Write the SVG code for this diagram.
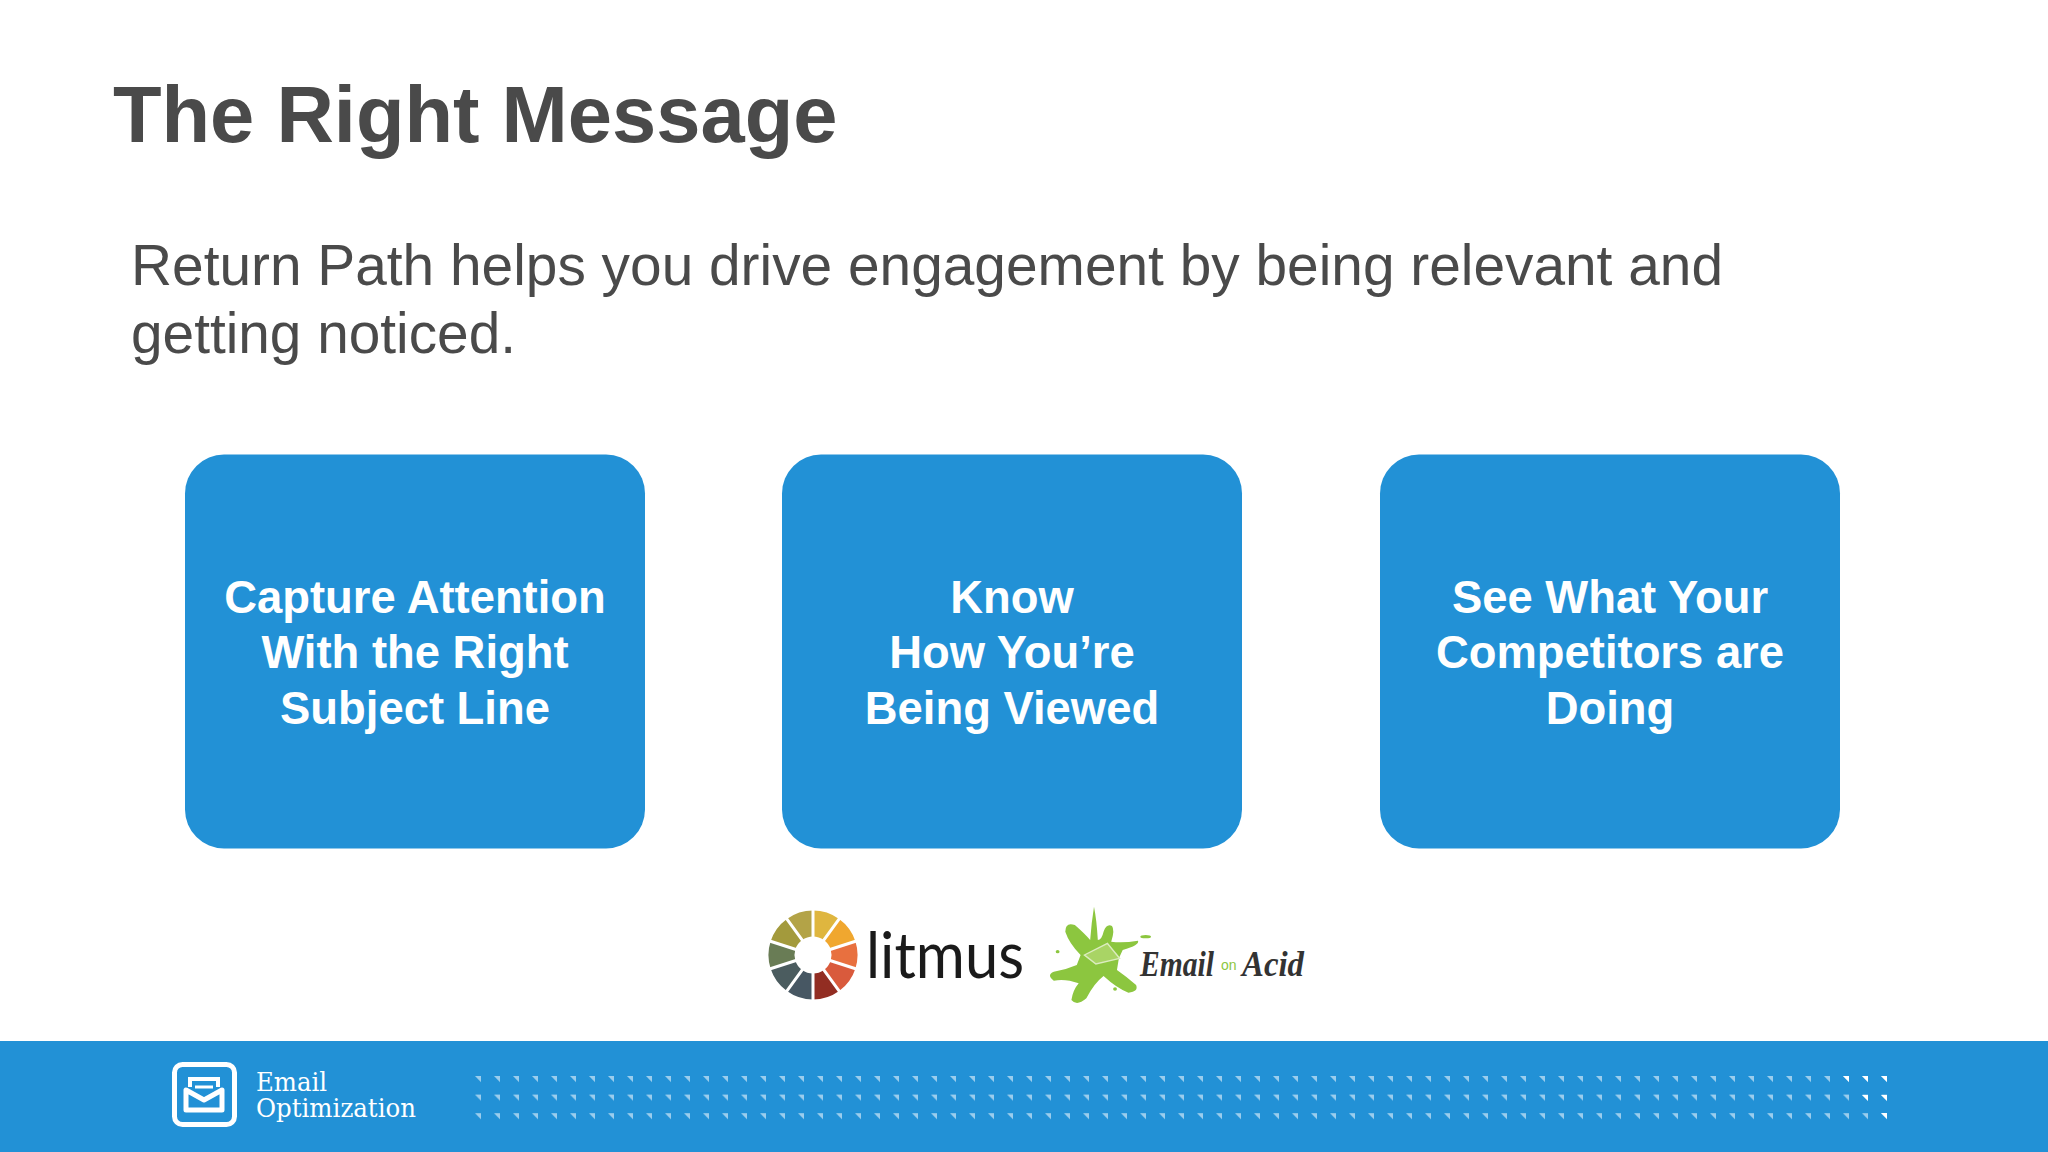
<svg xmlns="http://www.w3.org/2000/svg" width="2048" height="1152" viewBox="0 0 2048 1152">
<defs>
<style>
.box{fill:#2291d6}
.lbl{font-family:"Liberation Sans",Arial,sans-serif;font-weight:700;font-size:45.4px;fill:#fff;text-anchor:middle}
.body{font-family:"Liberation Sans",Arial,sans-serif;font-size:58px;fill:#4a4a4a}
.foot{font-family:"DejaVu Serif",serif;font-size:26px;fill:#fff}
.script{font-family:"Liberation Serif",serif;font-weight:700;font-style:italic;font-size:36px;fill:#333}
</style>
<pattern id="dots" x="475" y="1076" width="19" height="18.6" patternUnits="userSpaceOnUse"><path d="M0 0H6V6Z" fill="#fff" fill-opacity=".55"/></pattern>
<path id="tri" d="M0 0H6V6Z" fill="#fff"/>
</defs>
<rect width="2048" height="1152" fill="#fff"/>
<g id="title"><text x="113" y="142" font-family="Liberation Sans,Arial,sans-serif" font-weight="700" font-size="79.500" fill="#4a4a4a">The Right Message</text></g>
<g id="intro"><text class="body" x="131" y="285" textLength="1592" lengthAdjust="spacingAndGlyphs">Return Path helps you drive engagement by being relevant and</text><text class="body" x="131" y="353" textLength="385" lengthAdjust="spacingAndGlyphs">getting noticed.</text></g>
<g id="node-capture"><rect class="box" x="185" y="454.500" width="460" height="394" rx="39"/><text class="lbl" x="415" y="612.500">Capture Attention</text><text class="lbl" x="415" y="668">With the Right</text><text class="lbl" x="415" y="723.500">Subject Line</text></g>
<g id="node-know"><rect class="box" x="782" y="454.500" width="460" height="394" rx="39"/><text class="lbl" x="1012" y="612.500">Know</text><text class="lbl" x="1012" y="668">How You’re</text><text class="lbl" x="1012" y="723.500">Being Viewed</text></g>
<g id="node-see"><rect class="box" x="1380" y="454.500" width="460" height="394" rx="39"/><text class="lbl" x="1610" y="612.500">See What Your</text><text class="lbl" x="1610" y="668">Competitors are</text><text class="lbl" x="1610" y="723.500">Doing</text></g>
<g id="connectors"></g>
<g id="litmus">
<g transform="translate(813 955)">
<g fill="none" stroke-width="26">
<path stroke="#dfb63f" d="M0-31.500A31.500 31.500 0 0 1 18.500-25.500"/>
<path stroke="#f0a72f" d="M18.500-25.500A31.500 31.500 0 0 1 30-9.700"/>
<path stroke="#e8703f" d="M30-9.700A31.500 31.500 0 0 1 30 9.700"/>
<path stroke="#d95a3c" d="M30 9.700A31.500 31.500 0 0 1 18.500 25.500"/>
<path stroke="#922d22" d="M18.500 25.500A31.500 31.500 0 0 1 0 31.500"/>
<path stroke="#475763" d="M0 31.500A31.500 31.500 0 0 1-18.500 25.500"/>
<path stroke="#4b5c5f" d="M-18.500 25.500A31.500 31.500 0 0 1-30 9.700"/>
<path stroke="#697c55" d="M-30 9.700A31.500 31.500 0 0 1-30-9.700"/>
<path stroke="#a39a3c" d="M-30-9.700A31.500 31.500 0 0 1-18.500-25.500"/>
<path stroke="#b3a347" d="M-18.500-25.500A31.500 31.500 0 0 1 0-31.500"/>
</g>
<path stroke="#fff" stroke-width="3" fill="none" d="M0-48V48M28.200-38.800L-28.200 38.800M45.700-14.800L-45.700 14.800M45.700 14.800L-45.700-14.800M28.200 38.800L-28.200-38.800"/>
</g>
<text x="866" y="978" font-family="Lato,sans-serif" font-size="64" fill="#1a1a1a" textLength="158" lengthAdjust="spacingAndGlyphs">litmus</text>
</g>
<g id="email-on-acid">
<g transform="translate(740 890) scale(.3827 .3333)" fill="#8cc63f">
<path d="M925 50Q932 90 935 150Q945 150 950 125Q958 100 972 108Q980 120 970 155Q1000 160 1040 152Q1045 165 1000 180L990 205L985 240Q1010 260 1035 285Q1042 305 1015 308Q985 295 950 258Q925 280 905 325Q880 350 866 330Q870 300 885 280Q850 265 820 272Q800 255 820 245Q850 240 880 225L890 195Q860 160 850 125Q850 95 875 105Q900 130 915 150Q918 100 925 50Z"/>
<ellipse cx="1060" cy="140" rx="14" ry="5"/><circle cx="830" cy="185" r="5"/><circle cx="980" cy="297" r="5"/>
<path d="M900 195L960 160L992 205L930 222Z" fill="#a9d465" stroke="#dcecc0" stroke-width="4"/>
</g>
<text class="script" x="1140" y="976" textLength="74" lengthAdjust="spacingAndGlyphs">Email</text>
<text x="1221" y="970" font-family="Liberation Sans,sans-serif" font-size="14" fill="#8cc63f">on</text>
<text class="script" x="1242" y="976" textLength="62" lengthAdjust="spacingAndGlyphs">Acid</text>
</g>
<g id="footer">
<rect y="1041" width="2048" height="111" fill="#2291d6"/>
<rect x="475" y="1076" width="1420" height="50" fill="url(#dots)"/>
<use href="#tri" x="1843" y="1076"/><use href="#tri" x="1862" y="1076"/><use href="#tri" x="1881" y="1076"/>
<use href="#tri" x="1862" y="1095"/><use href="#tri" x="1881" y="1095"/><use href="#tri" x="1881" y="1113"/>
<rect x="174.500" y="1064.500" width="60" height="60" rx="8" fill="none" stroke="#fff" stroke-width="5"/>
<path d="M186 1090V1110H222V1090L204 1100Z" fill="none" stroke="#fff" stroke-width="5" stroke-linejoin="round"/>
<path d="M190 1087V1079H218V1087" fill="none" stroke="#fff" stroke-width="4"/>
<path d="M195 1087H213" stroke="#fff" stroke-width="3"/>
<text class="foot" x="256" y="1091" textLength="71" lengthAdjust="spacingAndGlyphs">Email</text>
<text class="foot" x="256" y="1117" textLength="160" lengthAdjust="spacingAndGlyphs">Optimization</text>
</g>
</svg>
